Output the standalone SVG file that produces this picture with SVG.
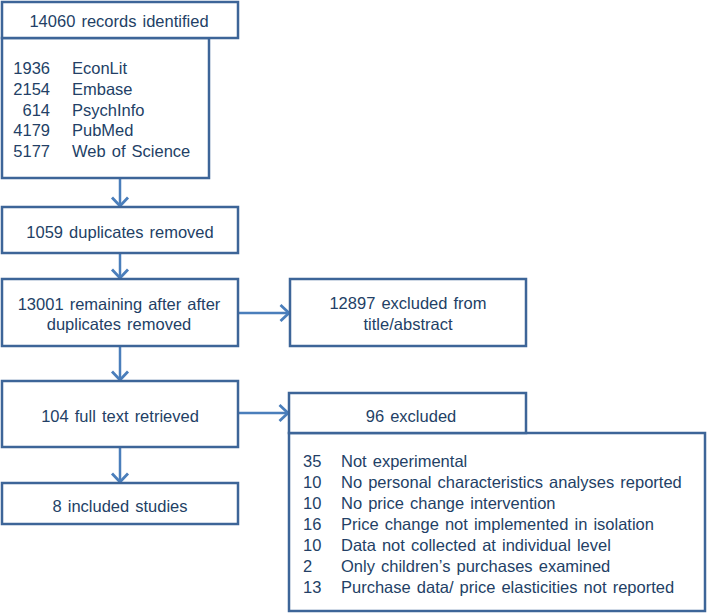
<svg xmlns="http://www.w3.org/2000/svg" width="707" height="613" viewBox="0 0 707 613">
<defs>
<style>
.box{fill:#fff;stroke:#3D6598;stroke-width:2.5}
.t{font-family:"Liberation Sans",Arial,sans-serif;font-size:16.5px;fill:#233F66;word-spacing:1.5px}
.c{text-anchor:middle}
.r{text-anchor:end}
.ln{fill:none;stroke:#4A7EBB;stroke-width:2.5}
</style>
<marker id="ah" viewBox="-10 -10 20 20" refX="0" refY="0" markerWidth="20" markerHeight="20" markerUnits="userSpaceOnUse" orient="auto">
<path d="M-8.5,-8 L0,0 L-8.5,8" fill="none" stroke="#4A7EBB" stroke-width="2.8"/>
</marker>
</defs>
<rect width="707" height="613" fill="#fff"/>
<g id="connectors">
<line class="ln" x1="120" y1="178" x2="120" y2="206" marker-end="url(#ah)"/>
<line class="ln" x1="120" y1="253" x2="120" y2="278" marker-end="url(#ah)"/>
<line class="ln" x1="120" y1="346" x2="120" y2="380" marker-end="url(#ah)"/>
<line class="ln" x1="238" y1="313" x2="289" y2="313" marker-end="url(#ah)"/>
<line class="ln" x1="238" y1="413" x2="288" y2="413" marker-end="url(#ah)"/>
<line class="ln" x1="120" y1="447" x2="120" y2="482" marker-end="url(#ah)"/>
</g>
<g id="identified">
<rect class="box" x="2" y="38" width="207" height="140"/>
<rect class="box" x="2" y="2" width="236" height="36"/>
<text class="t c" x="119" y="27">14060 records identified</text>
<text class="t r" x="50" y="74">1936</text><text class="t" x="72" y="74">EconLit</text>
<text class="t r" x="50" y="95">2154</text><text class="t" x="72" y="95">Embase</text>
<text class="t r" x="50" y="116">614</text><text class="t" x="72" y="116">PsychInfo</text>
<text class="t r" x="50" y="136">4179</text><text class="t" x="72" y="136">PubMed</text>
<text class="t r" x="50" y="157">5177</text><text class="t" x="72" y="157">Web of Science</text>
</g>
<g id="duplicates">
<rect class="box" x="2" y="207" width="236" height="46"/>
<text class="t c" x="120" y="238">1059 duplicates removed</text>
</g>
<g id="remaining">
<rect class="box" x="2" y="279" width="236" height="67"/>
<text class="t c" x="119" y="310">13001 remaining after after</text>
<text class="t c" x="119" y="330">duplicates removed</text>
</g>
<g id="excluded-title">
<rect class="box" x="290" y="279" width="236" height="67"/>
<text class="t c" x="408" y="309">12897 excluded from</text>
<text class="t c" x="408" y="330">title/abstract</text>
</g>
<g id="fulltext">
<rect class="box" x="2" y="381" width="236" height="66"/>
<text class="t c" x="120" y="422">104 full text retrieved</text>
</g>
<g id="included">
<rect class="box" x="2" y="483" width="236" height="41"/>
<text class="t c" x="120" y="512">8 included studies</text>
</g>
<g id="excluded96">
<rect class="box" x="289" y="433" width="416" height="178"/>
<rect class="box" x="289" y="393" width="237" height="40"/>
<text class="t c" x="411" y="422">96 excluded</text>
<text class="t" x="303" y="467">35</text><text class="t" x="341" y="467">Not experimental</text>
<text class="t" x="303" y="488">10</text><text class="t" x="341" y="488">No personal characteristics analyses reported</text>
<text class="t" x="303" y="509">10</text><text class="t" x="341" y="509">No price change intervention</text>
<text class="t" x="303" y="530">16</text><text class="t" x="341" y="530">Price change not implemented in isolation</text>
<text class="t" x="303" y="551">10</text><text class="t" x="341" y="551">Data not collected at individual  level</text>
<text class="t" x="303" y="572">2</text><text class="t" x="341" y="572">Only children’s purchases examined</text>
<text class="t" x="303" y="593">13</text><text class="t" x="341" y="593">Purchase data/ price elasticities not reported</text>
</g>
</svg>
